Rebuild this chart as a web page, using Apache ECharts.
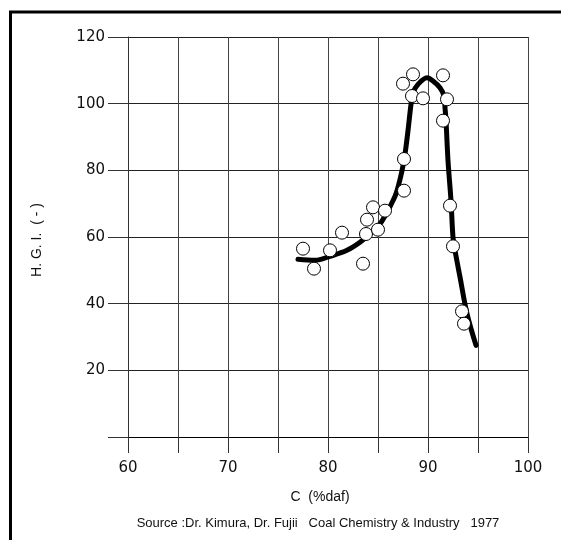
<!DOCTYPE html>
<html>
<head>
<meta charset="utf-8">
<script src="https://cdn.jsdelivr.net/npm/echarts@6/dist/echarts.min.js"></script>
<style>
  html, body { margin: 0; padding: 0; background: #fff; }
  #chart { width: 561px; height: 540px; }
</style>
</head>
<body>
<div id="chart"></div>
<script>
// Measured samples: carbon content (% daf) vs Hardgrove grindability index
const pointC   = [77.5, 78.6, 80.2, 81.4, 83.5, 83.8, 83.9, 84.5, 85.0, 85.7, 87.5, 87.6, 87.6, 88.4, 88.5, 89.5, 91.5, 91.5, 91.9, 92.2, 92.5, 93.4, 93.6];
const pointHGI = [56.5, 50.5, 56.0, 61.3, 52.0, 60.9, 65.2, 68.9, 62.2, 67.9, 106.0, 83.4, 73.9, 102.3, 108.8, 101.6, 108.5, 94.9, 101.3, 69.4, 57.2, 37.7, 34.0];

// Fitted trend curve
const curveC   = [77.0, 78.7, 80.2, 81.9, 83.2, 84.2, 85.2, 86.5, 86.9, 87.4, 87.7, 88.0, 88.3, 88.5, 89.0, 89.9, 90.5, 91.2, 91.6, 91.7, 91.8, 92.0, 92.3, 92.5, 92.7, 93.2, 93.9, 94.8];
const curveHGI = [53.3, 53.0, 54.2, 56.0, 58.4, 61.0, 63.9, 70.9, 73.9, 79.9, 84.9, 91.9, 99.8, 103.3, 105.8, 107.8, 106.8, 104.8, 102.3, 98.8, 94.9, 82.9, 70.9, 59.9, 56.0, 48.0, 37.0, 27.5];

const xTicks = { min: 60, max: 100, step: 5 };
const yTicks = { min: 0, max: 120, step: 20 };

const sourceText = 'Source :Dr. Kimura, Dr. Fujii   Coal Chemistry & Industry   1977';

const zip = (a, b) => a.map((v, i) => [v, b[i]]);

const chart = echarts.init(document.getElementById('chart'), null, { renderer: 'canvas' });

chart.setOption({
  animation: false,
  backgroundColor: '#fff',
  grid: { left: 128, right: 33, top: 37, bottom: 103, containLabel: false },
  xAxis: {
    type: 'value',
    min: xTicks.min, max: xTicks.max, interval: xTicks.step,
    axisLine: { show: true, onZero: false, lineStyle: { color: '#000', width: 1 } },
    axisTick: { show: true, length: 16, lineStyle: { color: '#333', width: 1 } },
    axisLabel: {
      margin: 24, color: '#111', fontSize: 15, fontFamily: 'DejaVu Sans',
      formatter: v => (v % 10 === 0 ? String(v) : '')
    },
    splitLine: { show: true, lineStyle: { color: '#444', width: 1 } }
  },
  yAxis: {
    type: 'value',
    min: yTicks.min, max: yTicks.max, interval: yTicks.step,
    axisLine: { show: true, onZero: false, lineStyle: { color: '#333', width: 1 } },
    axisTick: { show: true, length: 20, lineStyle: { color: '#333', width: 1 } },
    axisLabel: {
      margin: 23, color: '#111', fontSize: 15, fontFamily: 'DejaVu Sans',
      formatter: v => (v === 0 ? '' : String(v))
    },
    splitLine: { show: true, lineStyle: { color: '#222', width: 1 } }
  },
  series: [
    {
      type: 'line',
      data: zip(curveC, curveHGI),
      smooth: 0.35,
      showSymbol: false,
      symbol: 'none',
      lineStyle: { color: '#000', width: 5, cap: 'round', join: 'round' },
      z: 2
    },
    {
      type: 'scatter',
      data: zip(pointC, pointHGI),
      symbol: 'circle',
      symbolSize: 13,
      itemStyle: { color: '#fff', borderColor: '#000', borderWidth: 1, opacity: 1 },
      emphasis: { disabled: true },
      z: 3
    }
  ],
  graphic: [
    {
      type: 'rect',
      shape: { x: 10.5, y: 12, width: 700, height: 700 },
      style: { fill: 'none', stroke: '#000', lineWidth: 3 },
      silent: true
    },
    {
      type: 'text',
      x: 37, y: 240,
      rotation: Math.PI / 2,
      style: {
        text: 'H. G. I.  ( - )',
        fontSize: 14, fontFamily: 'Liberation Sans', fill: '#111',
        align: 'center', verticalAlign: 'middle'
      }
    },
    {
      type: 'text',
      x: 320, y: 497,
      style: {
        text: 'C  (%daf)',
        fontSize: 14, fontFamily: 'Liberation Sans', fill: '#111',
        align: 'center', verticalAlign: 'middle'
      }
    },
    {
      type: 'text',
      x: 318, y: 523,
      style: {
        text: sourceText,
        fontSize: 13, fontFamily: 'Liberation Sans', fill: '#111',
        align: 'center', verticalAlign: 'middle'
      }
    }
  ]
});
</script>
</body>
</html>
